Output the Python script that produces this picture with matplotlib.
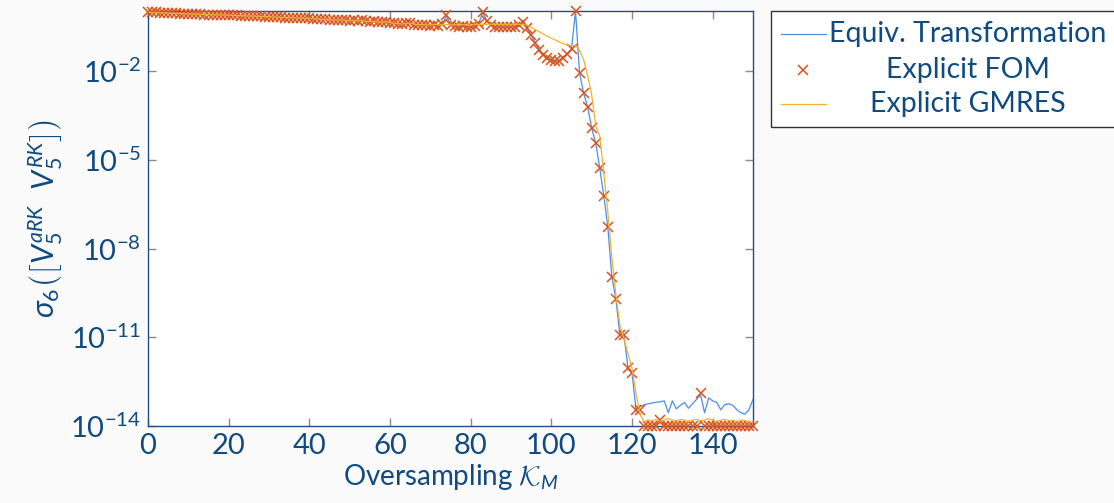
"""
Smallest singular value of the stacked RK bases vs. oversampling.
"""
import matplotlib.pyplot as plt
import numpy as np
from matplotlib.lines import Line2D
from matplotlib.patches import Rectangle
from matplotlib.ticker import NullLocator

plt.rcParams["font.family"] = ["Lato", "DejaVu Sans"]
plt.rcParams["mathtext.fontset"] = "custom"
plt.rcParams["mathtext.rm"] = "Lato"
plt.rcParams["mathtext.it"] = "Lato:italic"
plt.rcParams["mathtext.bf"] = "Lato:bold"
plt.rcParams["mathtext.sf"] = "Lato"
plt.rcParams["mathtext.cal"] = "cmsy10"

TEXT = "#0f4a80"
BLUE = "#4a8ef0"
RED = "#d9531e"
YELLOW = "#f0b12e"

# oversampling K_M = 0..150, values as log10 of sigma_6
oversampling = list(range(151))

fom_exp = [
    -0.01, -0.02, -0.02, -0.03, -0.03, -0.04, -0.05, -0.05, -0.06, -0.06,
    -0.07, -0.07, -0.08, -0.08, -0.09, -0.09, -0.10, -0.10, -0.10, -0.11,
    -0.11, -0.12, -0.12, -0.13, -0.13, -0.14, -0.14, -0.15, -0.15, -0.16,
    -0.16, -0.17, -0.18, -0.18, -0.19, -0.19, -0.20, -0.21, -0.21, -0.22,
    -0.22, -0.23, -0.24, -0.25, -0.25, -0.26, -0.27, -0.28, -0.27, -0.29,
    -0.30, -0.29, -0.31, -0.28, -0.32, -0.33, -0.32, -0.34, -0.35, -0.33,
    -0.36, -0.38, -0.40, -0.42, -0.39, -0.37, -0.43, -0.45, -0.44, -0.46,
    -0.47, -0.44, -0.48, -0.42, -0.12, -0.45, -0.49, -0.50, -0.48, -0.50,
    -0.51, -0.47, -0.40, -0.02, -0.30, -0.45, -0.50, -0.52, -0.51, -0.52,
    -0.52, -0.51, -0.45, -0.33, -0.55, -0.78, -1.05, -1.28, -1.45, -1.57,
    -1.64, -1.67, -1.65, -1.56, -1.42, -1.25, 0.02, -2.07, -2.74, -3.22,
    -3.93, -4.43, -5.28, -6.22, -7.27, -8.96, -9.70, -10.92, -10.92, -12.03,
    -12.20, -13.45, -13.45, -14.0, -14.0, -14.0, -14.0, -13.80, -14.0, -14.0,
    -14.0, -14.0, -14.0, -14.0, -14.0, -14.0, -14.0, -12.90, -14.0, -14.0,
    -14.0, -14.0, -14.0, -14.0, -14.0, -14.0, -14.0, -14.0, -14.0, -14.0,
    -14.0,
]

# equivalence transformation follows FOM up to K_M = 120, then levels off
equiv_tail = [
    -13.45, -13.35, -13.28, -13.25, -13.22, -13.20, -13.18, -13.15, -13.55,
    -13.15, -13.42, -13.30, -13.20, -13.40, -13.25, -13.10, -12.95, -13.55,
    -13.05, -13.15, -13.20, -13.45, -13.28, -13.25, -13.30, -13.45, -13.55,
    -13.60, -13.45, -13.10,
]
equiv_exp = fom_exp[:121] + equiv_tail

gmres_head = [
    -0.01, -0.02, -0.02, -0.03, -0.03, -0.04, -0.05, -0.05, -0.06, -0.06,
    -0.07, -0.07, -0.08, -0.08, -0.09, -0.09, -0.10, -0.10, -0.10, -0.11,
    -0.11, -0.12, -0.12, -0.13, -0.13, -0.14, -0.14, -0.15, -0.15, -0.16,
    -0.16, -0.17, -0.18, -0.18, -0.19, -0.19, -0.20, -0.21, -0.21, -0.22,
    -0.22, -0.23, -0.24, -0.25, -0.25, -0.26, -0.27, -0.28, -0.27, -0.29,
    -0.30, -0.29, -0.31, -0.29, -0.32, -0.33, -0.32, -0.34, -0.35, -0.33,
    -0.36, -0.38, -0.40, -0.41, -0.39, -0.38, -0.42, -0.43, -0.43, -0.44,
    -0.44, -0.43, -0.44, -0.43, -0.43, -0.44, -0.44, -0.44, -0.43, -0.44,
    -0.44, -0.43, -0.42, -0.42, -0.42, -0.42, -0.42, -0.42, -0.42, -0.42,
    -0.42, -0.42, -0.42,
]
gmres_tail = [
    -0.42, -0.45, -0.52, -0.60, -0.67, -0.75, -0.82, -0.89, -0.95, -1.02,
    -1.08, -1.12, -1.14, -1.13, -1.30, -1.62, -2.15, -2.80, -3.85, -4.20,
    -5.45, -6.75, -8.30, -9.55, -10.60, -11.05, -11.55, -12.05, -12.90, -13.60,
    -13.85, -13.80, -13.82, -13.78, -13.85, -13.80, -13.75, -13.80, -13.82,
    -13.78, -13.80, -13.85, -13.80, -13.78, -13.82, -13.80, -13.75, -13.80,
    -13.85, -13.80, -13.78, -13.82, -13.80, -13.85, -13.80, -13.82, -13.85,
    -13.88,
]
gmres_exp = gmres_head + gmres_tail

x_ticks = [0, 20, 40, 60, 80, 100, 120, 140]
y_ticks = [1e-2, 1e-5, 1e-8, 1e-11, 1e-14]

labels = ["Equiv. Transformation", "Explicit FOM", "Explicit GMRES"]

W, H = 1114, 503
fig = plt.figure(figsize=(W / 100, H / 100), dpi=100, facecolor="#fafafa")
ax = fig.add_axes([148 / W, 77 / H, 605 / W, 415 / H])

ax.semilogy(oversampling, 10.0 ** np.array(equiv_exp), color=BLUE, lw=0.9, zorder=3)
ax.semilogy(oversampling, 10.0 ** np.array(fom_exp), ls="none", marker="x",
            ms=6.5, mew=1.1, color=RED, clip_on=False, zorder=4)
ax.semilogy(oversampling, 10.0 ** np.array(gmres_exp), color=YELLOW, lw=0.9, zorder=5)

ax.set_xlim(0, 150)
ax.set_ylim(1e-14, 10 ** 0.03)
ax.set_xticks(x_ticks)
ax.set_yticks(y_ticks)
ax.yaxis.set_minor_locator(NullLocator())
ax.tick_params(direction="in", top=True, right=True, length=6, width=1,
               color="#8a8a8a", labelsize=21, labelcolor=TEXT, pad=5)
for s in ax.spines.values():
    s.set_color("#1f4f86")
    s.set_linewidth(1.0)

ax.set_xlabel(r"Oversampling $\mathcal{K}_M$", fontsize=20, color=TEXT, labelpad=2)
ax.set_ylabel(r"$\sigma_6\left(\left[V_5^{aRK}\ \ V_5^{RK}\right]\right)$",
              fontsize=22, color=TEXT, labelpad=4)

# legend drawn by hand so the labels can be centred like in pgfplots
fig.patches.append(Rectangle((771 / W, 1 - 127 / H), 360 / W, 116 / H,
                             transform=fig.transFigure, facecolor="white",
                             edgecolor="#333333", lw=1.0))
rows = [34, 70, 104]
fig.lines.append(Line2D([781 / W, 826 / W], [1 - rows[0] / H] * 2,
                        transform=fig.transFigure, color=BLUE, lw=0.9))
fig.lines.append(Line2D([803 / W], [1 - rows[1] / H], transform=fig.transFigure,
                        ls="none", marker="x", ms=6.5, mew=1.1, color=RED))
fig.lines.append(Line2D([781 / W, 826 / W], [1 - rows[2] / H] * 2,
                        transform=fig.transFigure, color=YELLOW, lw=0.9))
for lab, r in zip(labels, rows):
    fig.text(968 / W, 1 - r / H, lab, fontsize=20.5, color=TEXT,
             ha="center", va="center")

fig.savefig("out.png", dpi=100, facecolor=fig.get_facecolor())
